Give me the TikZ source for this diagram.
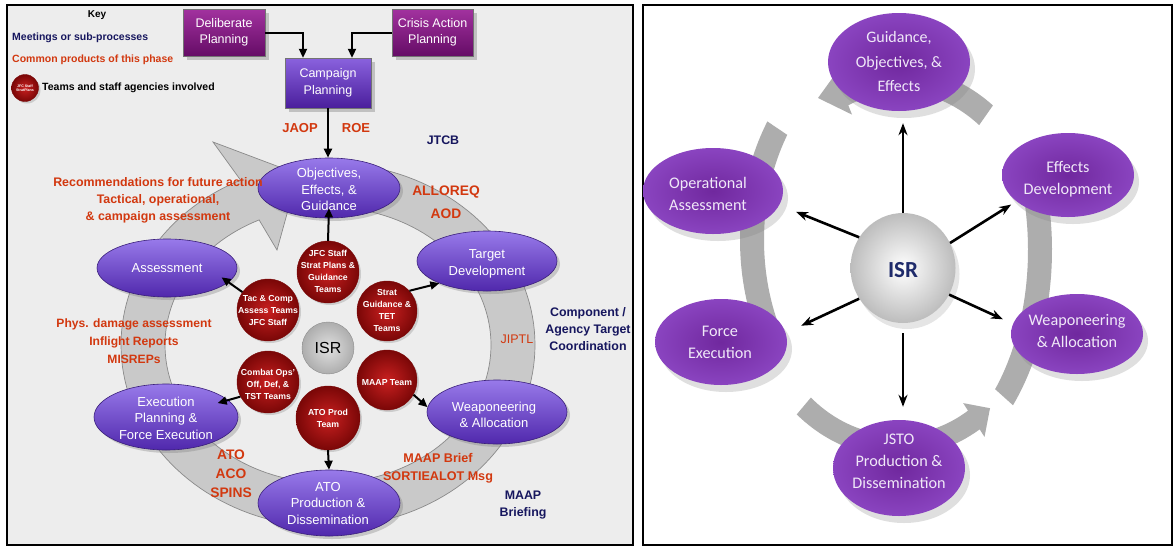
\documentclass[tikz,border=0pt]{standalone}
\usepackage{fontspec}
\setmainfont{Liberation Sans}
\newfontfamily\carl{Carlito}
\usetikzlibrary{shapes.geometric,shadows,arrows.meta}

\definecolor{lpurT}{HTML}{987AEA}
\definecolor{lpurB}{HTML}{5028AC}
\definecolor{lpurD}{HTML}{3A1F7A}
\definecolor{boxT}{HTML}{A2329F}
\definecolor{boxB}{HTML}{650C66}
\definecolor{campT}{HTML}{8A62DE}
\definecolor{campB}{HTML}{4A1E9C}
\definecolor{redI}{HTML}{C92020}
\definecolor{redO}{HTML}{7A0707}
\definecolor{lblred}{HTML}{D2380F}
\definecolor{navyk}{HTML}{16165E}
\definecolor{bandL}{HTML}{C9C9C9}
\definecolor{bandLD}{HTML}{8A8A8A}
\definecolor{panelL}{HTML}{EDEDED}
\definecolor{rpurI}{HTML}{70289E}
\definecolor{rpurO}{HTML}{8A44C0}
\definecolor{rtext}{HTML}{F0E8F8}
\definecolor{bandR}{HTML}{ADADAD}
\definecolor{isrnavy}{HTML}{1F2B6B}

\tikzset{
  lell/.style={ellipse, inner sep=0pt, top color=lpurT, bottom color=lpurB, draw=lpurD, line width=0.6pt,
    drop shadow={shadow xshift=3pt, shadow yshift=-3pt, opacity=0.35}},
  ltxt/.style={align=center, text=white, font=\fontsize{13}{16.5}\selectfont, inner sep=0pt},
  pbox/.style={rectangle, inner sep=0pt, draw=black!55, line width=0.4pt,
    drop shadow={shadow xshift=4pt, shadow yshift=-4pt, opacity=0.4}},
  btxt/.style={align=center, text=white, font=\fontsize{12.5}{16.5}\selectfont, inner sep=0pt},
  redc/.style={circle, inner sep=0pt, inner color=redI, outer color=redO, draw=redO, line width=0.4pt,
    drop shadow={shadow xshift=2pt, shadow yshift=-2pt, opacity=0.3}},
  ctxt/.style={align=center, text=white, font=\bfseries\fontsize{8.7}{12}\selectfont, inner sep=0pt},
  redlab/.style={align=center, text=lblred, font=\bfseries\fontsize{12.6}{17.5}\selectfont, inner sep=0pt},
  navlab/.style={align=center, text=navyk, font=\bfseries\fontsize{12.4}{17}\selectfont, inner sep=0pt},
  arr/.style={-{Triangle[length=9pt,width=8pt]}, line width=2pt, black},
  rell/.style={ellipse, inner sep=0pt, inner color=rpurI, outer color=rpurO,
    drop shadow={shadow xshift=5pt, shadow yshift=-7pt, opacity=0.25}},
  rtxt/.style={align=center, text=rtext, font=\carl\fontsize{16.2}{22}\selectfont, inner sep=0pt},
  rarr/.style={-{Stealth[length=12pt,width=9pt]}, line width=2.6pt, black},
}

\begin{document}
\begin{tikzpicture}[x=1pt,y=-1pt]
\useasboundingbox (0,0) rectangle (1175,552);

% ---------- panels ----------
\draw[line width=2.2pt, fill=panelL] (7,5) rectangle (633,545);
\draw[line width=2pt, fill=white] (643,5) rectangle (1172,545);

% ---------- left cycle band ----------
\filldraw[fill=bandL, draw=bandLD, line width=0.7pt]
  plot[domain=0:335, samples=150] ({328+207*cos(90-\x)},{345-182*sin(90-\x)})
  -- (213,142) -- (298,174) -- (277,250)
  -- plot[domain=0:335, samples=150] ({328+163*cos(-245+\x)},{345-138*sin(-245+\x)}) -- cycle;

% ---------- key ----------
\node[font=\bfseries\fontsize{10}{12}\selectfont, inner sep=0pt] (key) at (97,15) {Key};
\node[anchor=west, text=navyk, font=\bfseries\fontsize{10.5}{12}\selectfont, inner sep=0pt] (k1) at (12,38) {Meetings or sub-processes};
\node[anchor=west, text=lblred, font=\bfseries\fontsize{10.5}{12}\selectfont, inner sep=0pt] (k2) at (12,60) {Common products of this phase};
\node[redc, minimum size=27pt] (kc) at (25,88) {};
\node[align=center, text=white, font=\bfseries\fontsize{3.6}{4.4}\selectfont, inner sep=0pt] (kct) at (25,88) {JFC Staff\\StratPlans};
\node[anchor=west, font=\bfseries\fontsize{10.5}{12}\selectfont, inner sep=0pt] (k3) at (42,88) {Teams and staff agencies involved};

% ---------- planning boxes ----------
\node[pbox, top color=boxT, bottom color=boxB, minimum width=82pt, minimum height=47pt] (dp) at (224,32.5) {};
\node[btxt] (dpt) at (dp) {Deliberate\\Planning};
\node[pbox, top color=boxT, bottom color=boxB, minimum width=81pt, minimum height=47pt] (cap) at (432.5,32.5) {};
\node[btxt] (capt) at (cap) {Crisis Action\\Planning};
\node[pbox, top color=campT, bottom color=campB, minimum width=86pt, minimum height=50pt] (cp) at (328,83) {};
\node[btxt] (cpt) at (cp) {Campaign\\Planning};

% ---------- left ellipses ----------
\node[lell, minimum width=142pt, minimum height=60pt] (obj) at (329,188) {};
\node[ltxt] (objt) at (329,189.5) {Objectives,\\Effects, \&\\Guidance};
\node[lell, minimum width=140pt, minimum height=60pt] (tgt) at (487,261) {};
\node[ltxt] (tgtt) at (487,264) {Target\\Development};
\node[lell, minimum width=140pt, minimum height=58pt] (asm) at (167,268) {};
\node[ltxt] (asmt) at (167,268) {Assessment};
\node[lell, minimum width=144pt, minimum height=66pt] (exe) at (166,417) {};
\node[ltxt] (exet) at (166,418) {Execution\\Planning \&\\Force Execution};
\node[lell, minimum width=140pt, minimum height=64pt] (wpn) at (497,412) {};
\node[ltxt] (wpnt) at (494,415) {Weaponeering\\\& Allocation};
\node[lell, minimum width=142pt, minimum height=66pt] (ato) at (329,503) {};
\node[ltxt] (atot) at (328,503.5) {ATO\\Production \&\\Dissemination};

% ---------- team circles ----------
\node[redc, minimum size=62pt] (c1) at (328,272) {};
\node[ctxt] (c1t) at (328,271) {JFC Staff\\Strat Plans \&\\Guidance\\Teams};
\node[redc, minimum size=60pt] (c2) at (387,311) {};
\node[ctxt] (c2t) at (387,310) {Strat\\Guidance \&\\TET\\Teams};
\node[redc, minimum size=62pt] (c3) at (268,310) {};
\node[ctxt] (c3t) at (268,310) {Tac \& Comp\\Assess Teams\\JFC Staff};
\node[redc, minimum size=62pt] (c4) at (268,382) {};
\node[ctxt] (c4t) at (268,384) {Combat Ops'\\Off, Def, \&\\TST Teams};
\node[redc, minimum size=60pt] (c5) at (387,380) {};
\node[ctxt] (c5t) at (387,383) {MAAP Team};
\node[redc, minimum size=64pt] (c6) at (328,418) {};
\node[ctxt] (c6t) at (328,418) {ATO Prod\\Team};
\node[circle, inner sep=0pt, minimum size=52pt, inner color=black!12, outer color=black!32, draw=black!45, line width=0.4pt] (isrL) at (328,348) {};
\node[font=\fontsize{16}{18}\selectfont, inner sep=0pt] (isrLt) at (328,348) {ISR};

% ---------- left connectors ----------
\draw[arr] (dp.east) -| ([xshift=-25pt]cp.north);
\draw[arr] (cap.west) -| ([xshift=24pt]cp.north);
\draw[arr] (cp.south) -- (cp.south |- obj.north);
\draw[arr] (c1.north) -- ([yshift=10pt]obj.south);
\draw[arr] (c2.42) -- (tgt.205);
\draw[arr] (c3.145) -- ([xshift=-12pt]asm.-8);
\draw[arr] (c4.208) -- ([xshift=-14pt]exe.12);
\draw[arr] (c5.-29) -- (wpn.176);
\draw[arr] (c6.south) -- (ato.north);

% ---------- left labels ----------
\node[redlab, font=\bfseries\fontsize{13}{17}\selectfont] (jaop) at (300,128) {JAOP};
\node[redlab, font=\bfseries\fontsize{13}{17}\selectfont] (roe) at (356,128) {ROE};
\node[navlab] (jtcb) at (443,140) {JTCB};
\node[redlab, font=\bfseries\fontsize{12.4}{17}\selectfont] (recs) at (158,200) {Recommendations for future action\\Tactical, operational,\\\& campaign assessment};
\node[redlab, font=\bfseries\fontsize{13.8}{23.5}\selectfont] (allo) at (446,202) {ALLOREQ\\AOD};
\node[redlab, font=\fontsize{12.5}{15}\selectfont] (jiptl) at (517,339) {JIPTL};
\node[navlab] (comp) at (588,329) {Component /\\Agency Target\\Coordination};
\node[redlab, font=\bfseries\fontsize{12.1}{18}\selectfont] (phys) at (134,341) {Phys. damage assessment\\Inflight Reports\\MISREPs};
\node[redlab, font=\bfseries\fontsize{13.8}{19}\selectfont] (atos) at (231,474) {ATO\\ACO\\SPINS};
\node[redlab] (maapb) at (438,468.5) {MAAP Brief\\SORTIEALOT Msg};
\node[navlab] (maap) at (523,505.5) {MAAP\\Briefing};

% ---------- right panel bands ----------
\fill[bandR]
  plot[domain=55:112, samples=40] ({900+162*cos(\x)},{275-207*sin(\x)})
  -- (835.5,73.8) -- (818,98) -- (852,114.6)
  -- plot[domain=0:57, samples=40] ({900+138*cos(112-\x)},{275-183*sin(112-\x)}) -- cycle;
\fill[bandR]
  plot[domain=146:207, samples=40] ({900+160*cos(\x)},{240-212*sin(\x)})
  -- plot[domain=0:61, samples=40] ({900+136*cos(207-\x)},{240-188*sin(207-\x)}) -- cycle;
\fill[bandR]
  plot[domain=-42:15, samples=40] ({900+152*cos(\x)},{250-232*sin(\x)})
  -- plot[domain=0:57, samples=40] ({900+128*cos(15-\x)},{250-208*sin(15-\x)}) -- cycle;
\fill[bandR]
  plot[domain=-130:-58, samples=40] ({897+156*cos(\x)},{275-182*sin(\x)})
  -- (984.5,436.9) -- (990,408.2) -- (963.2,403.1)
  -- plot[domain=0:72, samples=40] ({897+134*cos(-58-\x)},{275-160*sin(-58-\x)}) -- cycle;

% ---------- right ellipses ----------
\node[rell, minimum width=142pt, minimum height=98pt] (g1) at (899,62) {};
\node[rtxt, font=\carl\fontsize{16}{24.5}\selectfont] (g1t) at (899,62) {Guidance,\\Objectives, \&\\Effects};
\node[rell, minimum width=140pt, minimum height=86pt] (g2) at (713,191) {};
\node[rtxt] (g2t) at (708,194) {Operational\\Assessment};
\node[rell, minimum width=132pt, minimum height=84pt] (g3) at (1068,175) {};
\node[rtxt] (g3t) at (1068,179) {Effects\\Development};
\node[rell, minimum width=132pt, minimum height=86pt] (g4) at (721,342) {};
\node[rtxt] (g4t) at (720,342) {Force\\Execution};
\node[rell, minimum width=132pt, minimum height=80pt] (g5) at (1077,334) {};
\node[rtxt] (g5t) at (1077,331) {Weaponeering\\\& Allocation};
\node[rell, minimum width=132pt, minimum height=96pt] (g6) at (899,468) {};
\node[rtxt] (g6t) at (899,461.5) {JSTO\\Production \&\\Dissemination};
\node[ellipse, inner sep=0pt, minimum width=105pt, minimum height=110pt, inner color=white, outer color=black!26,
      drop shadow={shadow xshift=4pt, shadow yshift=-6pt, opacity=0.2}] (isrR) at (903,268) {};
\node[text=isrnavy, font=\carl\bfseries\fontsize{23}{24}\selectfont, inner sep=0pt] (isrRt) at (903,270) {ISR};

% ---------- right connectors ----------
\draw[rarr, shorten >=12pt] (isrR.north) -- (isrR.north |- g1.south);
\draw[rarr, shorten >=18pt] (isrR.145) -- (g2.-12);
\draw[rarr, shorten >=6pt] (isrR.28) -- (g3.207);
\draw[rarr, shorten >=17pt] (isrR.215) -- (g4.8);
\draw[rarr, shorten >=11pt] (isrR.-30) -- (g5.171);
\draw[rarr, shorten <=10pt, shorten >=13pt] (isrR.south) -- (isrR.south |- g6.north);
\end{tikzpicture}
\end{document}
